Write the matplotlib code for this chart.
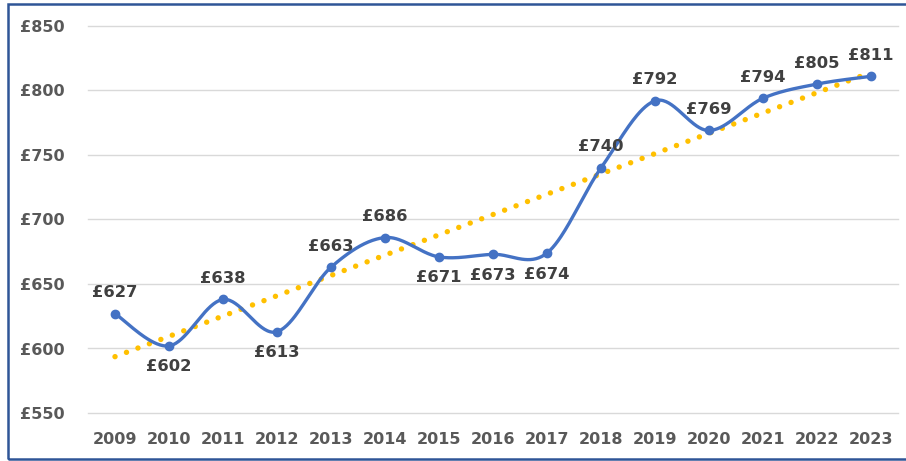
import numpy as np
import matplotlib
matplotlib.use("Agg")
import matplotlib.pyplot as plt
from matplotlib.patches import Rectangle

years = ["2009", "2010", "2011", "2012", "2013", "2014", "2015", "2016",
         "2017", "2018", "2019", "2020", "2021", "2022", "2023"]
values = [627, 602, 638, 613, 663, 686, 671, 673, 674, 740, 792, 769, 794, 805, 811]
label_pos = ["above", "below", "above", "below", "above", "above", "below", "below",
             "below", "above", "above", "above", "above", "above", "above"]
yticks = [550, 600, 650, 700, 750, 800, 850]

BLUE = "#4472C4"
GOLD = "#FFC000"
TXT = "#404040"

W, H = 906, 461
fig = plt.figure(figsize=(W / 100, H / 100), dpi=100)
ax = fig.add_axes([88 / W, (H - 413) / H, (898 - 88) / W, (413 - 26) / H])

x = np.arange(len(values))
y = np.array(values, dtype=float)

# Excel-like smoothing (Catmull-Rom Bezier)
pts = np.column_stack([x, y])
ext = np.vstack([pts[0], pts, pts[-1]])
curve = []
t = np.linspace(0, 1, 40)
for i in range(len(pts) - 1):
    p0, p1, p2, p3 = ext[i], ext[i + 1], ext[i + 2], ext[i + 3]
    c1 = p1 + (p2 - p0) / 6
    c2 = p2 - (p3 - p1) / 6
    seg = ((1 - t) ** 3)[:, None] * p1 + (3 * (1 - t) ** 2 * t)[:, None] * c1 \
        + (3 * (1 - t) * t ** 2)[:, None] * c2 + (t ** 3)[:, None] * p2
    curve.append(seg if i == 0 else seg[1:])
curve = np.vstack(curve)

# trendline
coef = np.polyfit(x, y, 1)
trend = np.polyval(coef, x)
ax.plot(x, trend, color=GOLD, lw=3.9, linestyle=(0, (0.01, 2.25)),
        dash_capstyle="round", solid_capstyle="round", zorder=2)

ax.plot(curve[:, 0], curve[:, 1], color=BLUE, lw=2.4, zorder=3,
        solid_capstyle="round")
ax.plot(x, y, "o", color=BLUE, ms=6, zorder=4)

for xi, yi, pos in zip(x, values, label_pos):
    off = 21 if pos == "above" else -21
    ax.annotate(f"£{yi}", (xi, yi), xytext=(0, off * 0.72), textcoords="offset points",
                ha="center", va="center", fontsize=11.8, fontweight="bold",
                color=TXT, zorder=5)

ax.set_xlim(-0.5, len(values) - 0.5)
ax.set_ylim(550, 850)
ax.set_yticks(yticks)
ax.set_yticklabels([f"£{v}" for v in yticks])
ax.set_xticks(x)
ax.set_xticklabels(years)
ax.grid(axis="y", color="#D9D9D9", lw=1.0)
for gl in ax.get_ygridlines():
    gl.set_clip_on(False)
ax.set_axisbelow(True)
for s in ax.spines.values():
    s.set_visible(False)
ax.tick_params(length=0, labelsize=11.5, labelcolor="#595959", pad=14)
for lbl in ax.get_xticklabels() + ax.get_yticklabels():
    lbl.set_fontweight("bold")
for lbl in ax.get_yticklabels():
    lbl.set_horizontalalignment("left")
    lbl.set_x(-(88 - 20) / (898 - 88))
ax.tick_params(axis="y", pad=0)

fig.patches.append(Rectangle((8 / W, 2 / H), (W + 10 - 8) / W, (459 - 4) / H,
                             transform=fig.transFigure, fill=False,
                             edgecolor="#2F5597", lw=1.8))

fig.savefig("out.png", dpi=100)
